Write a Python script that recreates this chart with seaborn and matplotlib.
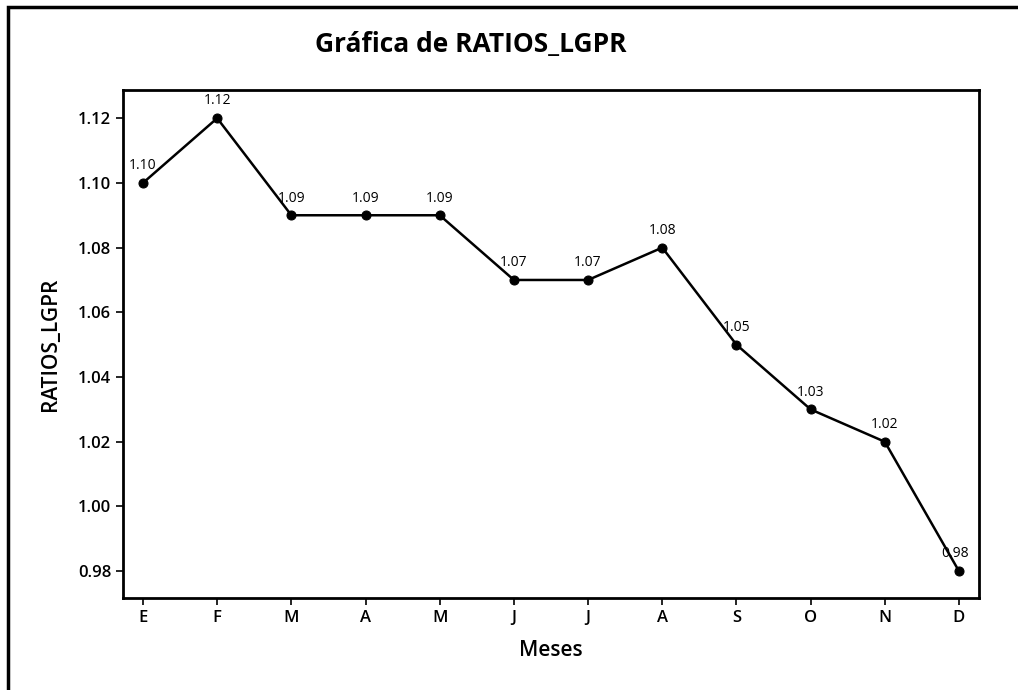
import matplotlib
matplotlib.use("Agg")
import matplotlib.pyplot as plt
import seaborn as sns
import pandas as pd
from matplotlib.patches import Rectangle

# Data
meses = ["E", "F", "M", "A", "M", "J", "J", "A", "S", "O", "N", "D"]
ratios = [1.10, 1.12, 1.09, 1.09, 1.09, 1.07, 1.07, 1.08, 1.05, 1.03, 1.02, 0.98]
y_ticks = [0.98, 1.00, 1.02, 1.04, 1.06, 1.08, 1.10, 1.12]

data = pd.DataFrame({"pos": range(len(meses)), "RATIOS_LGPR": ratios})

sns.set_style("white")
plt.rcParams["font.family"] = ["Open Sans", "DejaVu Sans"]
plt.rcParams["text.color"] = "black"
plt.rcParams["axes.labelcolor"] = "black"
plt.rcParams["xtick.color"] = "black"
plt.rcParams["ytick.color"] = "black"

fig = plt.figure(figsize=(10.18, 6.9), dpi=100)
ax = fig.add_axes([0.1208, 0.1333, 0.8409, 0.7362])

sns.lineplot(data=data, x="pos", y="RATIOS_LGPR", ax=ax, color="black",
             linewidth=1.8, marker="o", markersize=6.5, markeredgecolor="black")

# value labels above each point
for i, v in enumerate(ratios):
    dx = -3 if i == len(ratios) - 1 else 0
    ax.annotate(f"{v:.2f}", (i, v), xytext=(dx, 7), textcoords="offset points",
                ha="center", va="bottom", fontsize=10)

ax.set_xlim(-0.27, 11.27)
ax.set_ylim(0.9717, 1.1287)
ax.set_xticks(range(len(meses)))
ax.set_xticklabels(meses, fontsize=12, fontweight="semibold")
ax.set_yticks(y_ticks)
ax.set_yticklabels([f"{t:.2f}" for t in y_ticks], fontsize=12, fontweight="semibold")
ax.tick_params(direction="out", length=5, width=1.2, color="black", left=True, bottom=True)

for side in ax.spines.values():
    side.set_color("black")
    side.set_linewidth(2)

ax.set_xlabel("Meses", fontsize=15, fontweight="semibold", labelpad=10)
ax.set_ylabel("RATIOS_LGPR", fontsize=15, fontweight="semibold", labelpad=12)

fig.text(0.462, 0.935, "Gráfica de RATIOS_LGPR", ha="center", va="center",
         fontsize=19, fontweight="bold")

# outer frame of the scanned page
fig.patches.append(Rectangle((8 / 1018, -0.05), 1.2, 1 - 7 / 690 + 0.05,
                             transform=fig.transFigure, fill=False,
                             edgecolor="black", linewidth=2.5, clip_on=False))

fig.savefig("out.png", dpi=100)
